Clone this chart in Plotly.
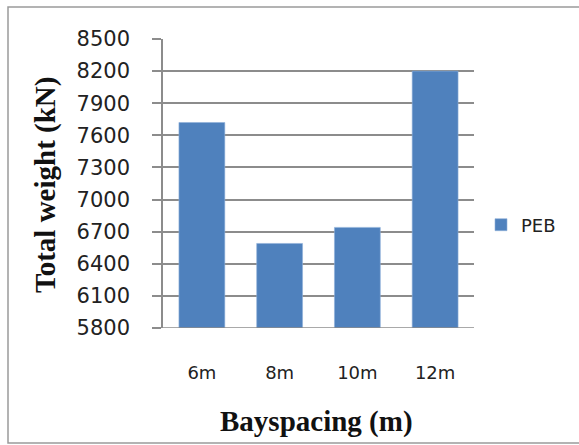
import plotly.graph_objects as go

# Total structural weight for each bay spacing
bay_spacing = ["6m", "8m", "10m", "12m"]
peb_weight = [7720, 6590, 6740, 8200]
y_ticks = [5800, 6100, 6400, 6700, 7000, 7300, 7600, 7900, 8200, 8500]

W, H = 579, 445
L, R, T, B = 163, 105, 39, 117
pw, ph = W - L - R, H - T - B

def px_x(x):
    return (x - L) / pw

def px_y(y):
    return (H - B - y) / ph

fig = go.Figure()
fig.add_trace(go.Bar(
    x=bay_spacing, y=peb_weight, name="PEB",
    marker=dict(color="#4F81BD", line=dict(color="#8FB0DA", width=0.6)),
    width=0.59,
))

fig.update_layout(
    width=W, height=H,
    margin=dict(l=L, r=R, t=T, b=B),
    paper_bgcolor="white", plot_bgcolor="white",
    font=dict(family="DejaVu Sans", color="#222222"),
    showlegend=True,
    legend=dict(
        x=px_x(481), y=px_y(225), xanchor="left", yanchor="middle",
        font=dict(size=18, family="DejaVu Sans", color="#222222"),
        itemwidth=30, bgcolor="rgba(0,0,0,0)",
    ),
    bargap=0.41,
    xaxis=dict(
        showgrid=False, showline=False, ticks="",
        tickfont=dict(size=18, family="DejaVu Sans"),
        ticklabelstandoff=32,
    ),
    yaxis=dict(
        range=[5800, 8500], tickvals=y_ticks,
        showgrid=True, gridcolor="#8C8C8C", gridwidth=1.5,
        showline=True, linecolor="#8C8C8C", linewidth=1.5,
        ticks="outside", ticklen=9, tickcolor="#8C8C8C", tickwidth=1.5,
        tickfont=dict(size=21, family="DejaVu Sans"),
        ticklabelstandoff=18,
        zeroline=False,
    ),
    shapes=[
        dict(type="rect", xref="paper", yref="paper",
             x0=px_x(8), x1=px_x(582), y0=px_y(443), y1=px_y(7),
             line=dict(color="#9A9A9A", width=1.5), layer="below"),
        dict(type="line", xref="paper", yref="y",
             x0=0, x1=1, y0=5800, y1=5800,
             line=dict(color="#8C8C8C", width=1.5)),
    ],
    annotations=[
        dict(text="<b>Total weight (kN)</b>", xref="paper", yref="paper",
             x=px_x(45), y=px_y(185), textangle=-90, showarrow=False,
             xanchor="center", yanchor="middle",
             font=dict(family="Liberation Serif", size=29, color="#111111")),
        dict(text="<b>Bayspacing (m)</b>", xref="paper", yref="paper",
             x=px_x(316), y=px_y(421), showarrow=False,
             xanchor="center", yanchor="middle",
             font=dict(family="Liberation Serif", size=29, color="#111111")),
    ],
)

fig.write_html("out.html")
